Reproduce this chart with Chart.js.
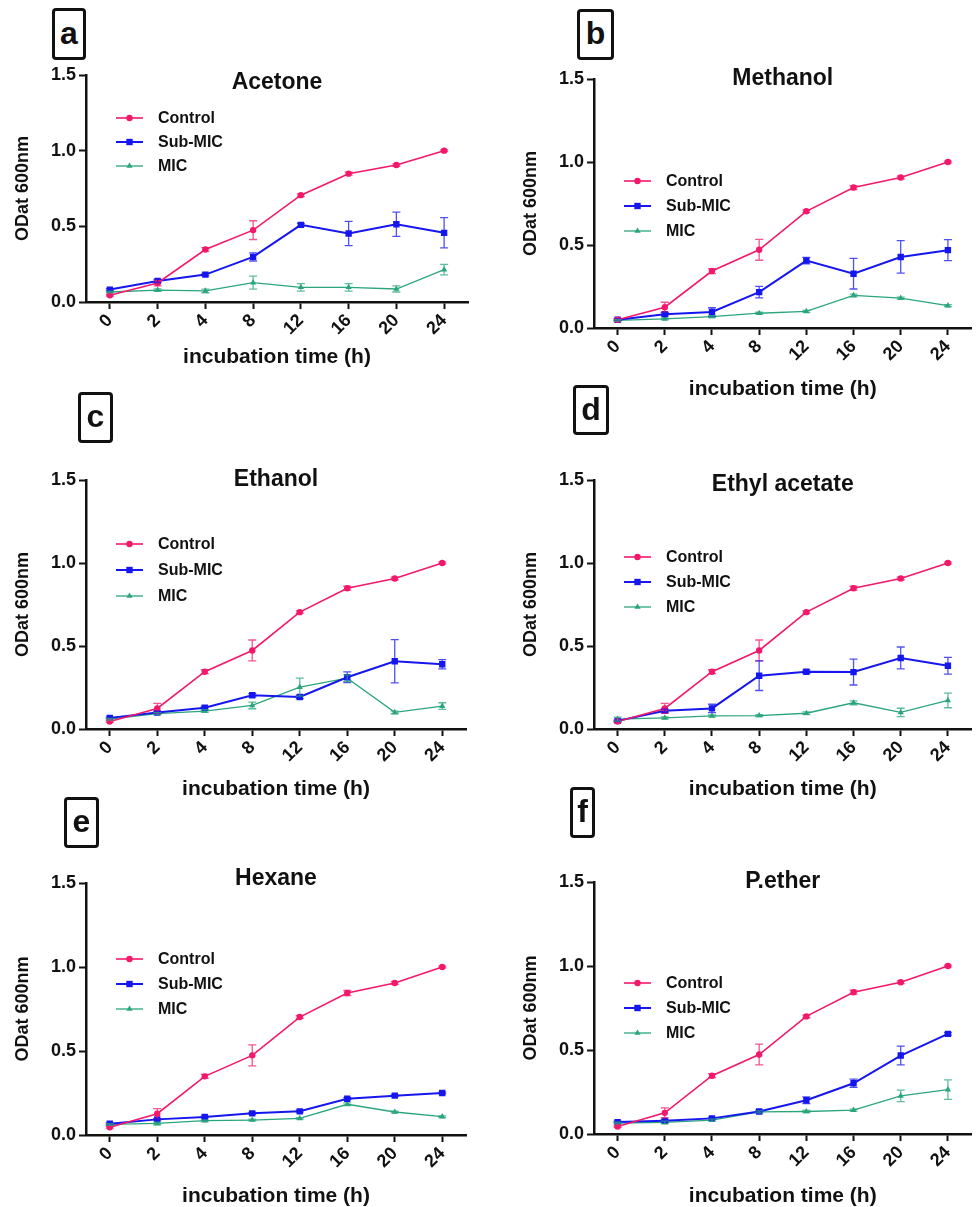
<!DOCTYPE html>
<html>
<head>
<meta charset="utf-8">
<script src="https://cdn.jsdelivr.net/npm/chart.js@4.4.0/dist/chart.umd.min.js"></script>
<style>
body { margin: 0; background: #fff; }
#page { position: relative; width: 976px; height: 1207px; overflow: hidden; font-family: "Liberation Sans", Arial, sans-serif; }
#page canvas { position: absolute; }
.tag {
    position: absolute; box-sizing: border-box; border: 3px solid #111; border-radius: 4px;
    display: flex; align-items: center; justify-content: center;
    font-weight: bold; font-size: 32px; color: #111; line-height: 1; padding-bottom: 3px;
}
</style>
</head>
<body>
<div id="page"></div>
<script>
const timeLabels = ['0', '2', '4', '8', '12', '16', '20', '24'];
const seriesNames = ['Control', 'Sub-MIC', 'MIC'];
const panelLetters = ['a', 'b', 'c', 'd', 'e', 'f'];
const panelTitles = ['Acetone', 'Methanol', 'Ethanol', 'Ethyl acetate', 'Hexane', 'P.ether'];
const yTickValues = [0, 0.5, 1.0, 1.5];

// a - Acetone
const acetoneControl = [0.044, 0.126, 0.347, 0.475, 0.706, 0.848, 0.905, 1.0];
const acetoneControlErr = [0.005, 0.02, 0.012, 0.062, 0.008, 0.01, 0.008, 0.005];
const acetoneSub = [0.082, 0.139, 0.181, 0.298, 0.51, 0.453, 0.514, 0.457];
const acetoneSubErr = [0.006, 0.01, 0.008, 0.027, 0.01, 0.08, 0.08, 0.1];
const acetoneMic = [0.066, 0.079, 0.073, 0.128, 0.097, 0.097, 0.086, 0.214];
const acetoneMicErr = [0.005, 0.008, 0.012, 0.043, 0.025, 0.025, 0.02, 0.035];

// b - Methanol
const methanolControl = [0.05, 0.125, 0.343, 0.471, 0.703, 0.846, 0.907, 1.0];
const methanolControlErr = [0.005, 0.03, 0.015, 0.063, 0.008, 0.012, 0.008, 0.005];
const methanolSub = [0.05, 0.083, 0.097, 0.216, 0.406, 0.327, 0.428, 0.469];
const methanolSubErr = [0.005, 0.01, 0.025, 0.035, 0.02, 0.092, 0.098, 0.063];
const methanolMic = [0.046, 0.055, 0.069, 0.089, 0.1, 0.196, 0.18, 0.135];
const methanolMicErr = [0.004, 0.005, 0.006, 0.006, 0.006, 0.008, 0.006, 0.006];

// c - Ethanol
const ethanolControl = [0.045, 0.124, 0.345, 0.473, 0.704, 0.848, 0.907, 1.0];
const ethanolControlErr = [0.005, 0.03, 0.012, 0.063, 0.008, 0.012, 0.008, 0.005];
const ethanolSub = [0.067, 0.099, 0.128, 0.203, 0.193, 0.312, 0.408, 0.39];
const ethanolSubErr = [0.005, 0.008, 0.008, 0.01, 0.01, 0.032, 0.13, 0.028];
const ethanolMic = [0.059, 0.093, 0.108, 0.142, 0.252, 0.306, 0.1, 0.138];
const ethanolMicErr = [0.005, 0.006, 0.008, 0.02, 0.054, 0.02, 0.008, 0.02];

// d - Ethyl acetate
const ethylControl = [0.045, 0.124, 0.345, 0.473, 0.704, 0.848, 0.907, 1.0];
const ethylControlErr = [0.005, 0.03, 0.012, 0.063, 0.008, 0.012, 0.008, 0.005];
const ethylSub = [0.049, 0.11, 0.124, 0.321, 0.345, 0.343, 0.428, 0.381];
const ethylSubErr = [0.005, 0.01, 0.025, 0.089, 0.01, 0.078, 0.066, 0.05];
const ethylMic = [0.059, 0.067, 0.079, 0.081, 0.095, 0.158, 0.1, 0.172];
const ethylMicErr = [0.012, 0.006, 0.006, 0.006, 0.008, 0.012, 0.025, 0.044];

// e - Hexane
const hexaneControl = [0.046, 0.127, 0.349, 0.474, 0.702, 0.845, 0.905, 1.0];
const hexaneControlErr = [0.005, 0.03, 0.012, 0.062, 0.008, 0.015, 0.008, 0.005];
const hexaneSub = [0.067, 0.093, 0.107, 0.129, 0.141, 0.216, 0.234, 0.25];
const hexaneSubErr = [0.005, 0.005, 0.005, 0.005, 0.005, 0.006, 0.005, 0.005];
const hexaneMic = [0.063, 0.069, 0.085, 0.089, 0.099, 0.183, 0.137, 0.109];
const hexaneMicErr = [0.005, 0.008, 0.005, 0.005, 0.005, 0.008, 0.005, 0.005];

// f - P.ether
const etherControl = [0.045, 0.126, 0.347, 0.473, 0.7, 0.844, 0.903, 1.0];
const etherControlErr = [0.005, 0.03, 0.012, 0.062, 0.008, 0.012, 0.008, 0.005];
const etherSub = [0.071, 0.079, 0.093, 0.134, 0.201, 0.302, 0.467, 0.596];
const etherSubErr = [0.005, 0.006, 0.006, 0.008, 0.02, 0.025, 0.056, 0.008];
const etherMic = [0.065, 0.069, 0.083, 0.132, 0.134, 0.142, 0.227, 0.264];
const etherMicErr = [0.005, 0.008, 0.006, 0.006, 0.006, 0.006, 0.034, 0.058];

const panelSeries = [
    [[acetoneControl, acetoneControlErr], [acetoneSub, acetoneSubErr], [acetoneMic, acetoneMicErr]],
    [[methanolControl, methanolControlErr], [methanolSub, methanolSubErr], [methanolMic, methanolMicErr]],
    [[ethanolControl, ethanolControlErr], [ethanolSub, ethanolSubErr], [ethanolMic, ethanolMicErr]],
    [[ethylControl, ethylControlErr], [ethylSub, ethylSubErr], [ethylMic, ethylMicErr]],
    [[hexaneControl, hexaneControlErr], [hexaneSub, hexaneSubErr], [hexaneMic, hexaneMicErr]],
    [[etherControl, etherControlErr], [etherSub, etherSubErr], [etherMic, etherMicErr]]
];

// look of each series
const seriesStyle = [
    { color: '#f2196c', width: 1.6, point: 'circle', radius: 3.2 },
    { color: '#1616ee', width: 2, point: 'rect', radius: 4.5 },
    { color: '#2ba67b', width: 1.3, point: 'triangle', radius: 3.6 }
];

// page placement of each panel (canvas box, chart area, texts, letter tag)
const layouts = [
    { x: 0, y: 0, w: 488, h: 400, L: 86, T: 75, R: 468, B: 302, titleY: 83, xTitleY: 357, yTitleX: 23, legTop: 43, legGap: 24, tag: [52, 8, 34, 52] },
    { x: 488, y: 0, w: 488, h: 400, L: 594, T: 79, R: 973, B: 332, titleY: 79, xTitleY: 393, yTitleX: 531, legTop: 102, legGap: 25, tag: [577, 9, 37, 51] },
    { x: 0, y: 400, w: 488, h: 400, L: 86, T: 480, R: 466, B: 733, titleY: 480, xTitleY: 793, yTitleX: 23, legTop: 64, legGap: 26, tag: [78, 392, 35, 51] },
    { x: 488, y: 400, w: 488, h: 400, L: 594, T: 480, R: 973, B: 733, titleY: 485, xTitleY: 793, yTitleX: 531, legTop: 77, legGap: 25, tag: [573, 385, 36, 50] },
    { x: 0, y: 800, w: 488, h: 407, L: 86, T: 883, R: 466, B: 1135, titleY: 879, xTitleY: 1196, yTitleX: 23, legTop: 76, legGap: 25, tag: [64, 797, 35, 51] },
    { x: 488, y: 800, w: 488, h: 407, L: 594, T: 882, R: 973, B: 1134, titleY: 882, xTitleY: 1196, yTitleX: 531, legTop: 101, legGap: 25, tag: [570, 787, 25, 51] }
];

const FONT = '"Liberation Sans", Arial, sans-serif';

function drawMarker(ctx, style, x, y, r) {
    ctx.beginPath();
    if (style === 'circle') {
        ctx.arc(x, y, r, 0, Math.PI * 2);
    } else if (style === 'rect') {
        const s = r * Math.SQRT1_2;
        ctx.rect(x - s, y - s, s * 2, s * 2);
    } else {
        const h = r * 1.5;
        ctx.moveTo(x, y - r);
        ctx.lineTo(x + h / Math.sqrt(3), y + r / 2);
        ctx.lineTo(x - h / Math.sqrt(3), y + r / 2);
        ctx.closePath();
    }
    ctx.fill();
}

// error bars, panel title and the legend inside the plot
const panelExtras = {
    id: 'panelExtras',
    afterDatasetsDraw(chart, args, opts) {
        const ctx = chart.ctx;
        const xs = chart.scales.x;
        const ys = chart.scales.y;
        ctx.save();
        chart.data.datasets.forEach((ds, di) => {
            ctx.strokeStyle = ds.borderColor;
            ctx.globalAlpha = 0.75;
            ctx.lineWidth = 1.3;
            ds.data.forEach((v, i) => {
                const e = ds.errors[i];
                const px = xs.getPixelForValue(i);
                const top = ys.getPixelForValue(v + e);
                const bot = ys.getPixelForValue(v - e);
                ctx.beginPath();
                ctx.moveTo(px, top); ctx.lineTo(px, bot);
                ctx.moveTo(px - 4, top); ctx.lineTo(px + 4, top);
                ctx.moveTo(px - 4, bot); ctx.lineTo(px + 4, bot);
                ctx.stroke();
            });
        });
        ctx.restore();
    },
    afterDraw(chart, args, opts) {
        const ctx = chart.ctx;
        const area = chart.chartArea;
        ctx.save();
        ctx.fillStyle = '#111';
        ctx.font = 'bold 23px ' + FONT;
        ctx.textAlign = 'center';
        ctx.textBaseline = 'middle';
        ctx.fillText(opts.title, (area.left + area.right) / 2, opts.titleY);

        ctx.textAlign = 'left';
        ctx.font = 'bold 16px ' + FONT;
        chart.data.datasets.forEach((ds, di) => {
            const y = area.top + opts.legTop + di * opts.legGap;
            const x0 = area.left + 30;
            const x1 = area.left + 57;
            ctx.strokeStyle = ds.borderColor;
            ctx.lineWidth = ds.borderWidth;
            ctx.beginPath();
            ctx.moveTo(x0, y); ctx.lineTo(x1, y);
            ctx.stroke();
            ctx.fillStyle = ds.borderColor;
            drawMarker(ctx, ds.pointStyle, (x0 + x1) / 2, y, ds.pointRadius);
            ctx.fillStyle = '#111';
            ctx.fillText(ds.label, area.left + 72, y + 1);
        });
        ctx.restore();
    }
};

function drawPanel(idx) {
    const lay = layouts[idx];
    const page = document.getElementById('page');

    const tag = document.createElement('div');
    tag.className = 'tag';
    tag.style.left = lay.tag[0] + 'px';
    tag.style.top = lay.tag[1] + 'px';
    tag.style.width = lay.tag[2] + 'px';
    tag.style.height = lay.tag[3] + 'px';
    tag.textContent = panelLetters[idx];
    page.appendChild(tag);

    const canvas = document.createElement('canvas');
    canvas.width = lay.w;
    canvas.height = lay.h;
    canvas.style.left = lay.x + 'px';
    canvas.style.top = lay.y + 'px';
    canvas.style.width = lay.w + 'px';
    canvas.style.height = lay.h + 'px';
    page.appendChild(canvas);

    const datasets = panelSeries[idx].map((s, si) => ({
        label: seriesNames[si],
        data: s[0],
        errors: s[1],
        borderColor: seriesStyle[si].color,
        backgroundColor: seriesStyle[si].color,
        borderWidth: seriesStyle[si].width,
        pointStyle: seriesStyle[si].point,
        pointRadius: seriesStyle[si].radius,
        pointBorderWidth: 0,
        tension: 0,
        fill: false
    }));

    const xTitleBottom = lay.xTitleY + 11;

    new Chart(canvas, {
        type: 'line',
        data: { labels: timeLabels, datasets: datasets },
        plugins: [panelExtras],
        options: {
            responsive: false,
            devicePixelRatio: 1,
            animation: false,
            layout: {
                padding: {
                    left: 0,
                    top: lay.T - lay.y,
                    right: lay.x + lay.w - lay.R,
                    bottom: Math.max(0, lay.y + lay.h - xTitleBottom)
                }
            },
            plugins: {
                legend: { display: false },
                tooltip: { enabled: false },
                panelExtras: {
                    title: panelTitles[idx],
                    titleY: lay.titleY - lay.y,
                    legTop: lay.legTop,
                    legGap: lay.legGap
                }
            },
            scales: {
                x: {
                    type: 'category',
                    offset: true,
                    grid: { display: true, drawOnChartArea: false, offset: false, tickLength: 7, tickWidth: 2, tickColor: '#111' },
                    border: { display: true, color: '#111', width: 2.5 },
                    ticks: { color: '#111', maxRotation: 45, minRotation: 45, padding: 1, font: { family: FONT, size: 18, weight: 'bold' } },
                    title: { display: true, text: 'incubation time (h)', color: '#111', padding: 0, font: { family: FONT, size: 21, weight: 'bold', lineHeight: 1 } },
                    afterFit: scale => { scale.height = xTitleBottom - lay.B; }
                },
                y: {
                    min: 0,
                    max: 1.5,
                    grid: { display: true, drawOnChartArea: false, tickLength: 7, tickWidth: 2, tickColor: '#111' },
                    border: { display: true, color: '#111', width: 2.5 },
                    ticks: { color: '#111', padding: 3, font: { family: FONT, size: 18, weight: 'bold' }, callback: v => v.toFixed(1) },
                    afterBuildTicks: scale => { scale.ticks = yTickValues.map(v => ({ value: v })); },
                    title: { display: true, text: 'ODat 600nm', color: '#111', padding: { top: lay.yTitleX - lay.x - 10.8, bottom: 0 }, font: { family: FONT, size: 18, weight: 'bold', lineHeight: 1.2 } },
                    afterFit: scale => { scale.width = lay.L - lay.x; }
                }
            }
        }
    });
}

for (let i = 0; i < layouts.length; i++) {
    drawPanel(i);
}
</script>
</body>
</html>
